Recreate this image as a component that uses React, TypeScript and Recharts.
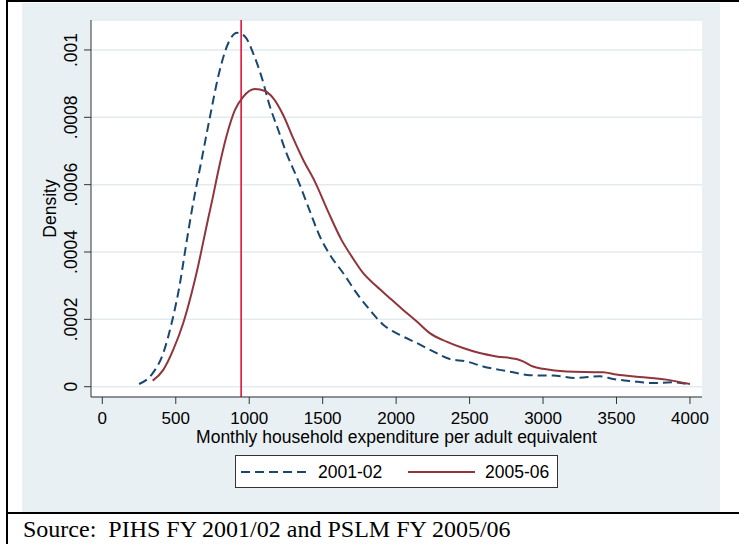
import React from "react";
import { ComposedChart, Line, XAxis, YAxis, CartesianGrid, ReferenceLine } from "recharts";

// 2001-02 kernel density (dashed navy)
const expenditure01 = [250, 336, 415, 472, 529, 563, 608, 676, 733, 789, 857, 918, 971, 1027, 1084, 1141, 1197, 1254, 1322, 1401, 1481, 1549, 1640, 1731, 1821, 1912, 2025, 2139, 2252, 2365, 2479, 2592, 2705, 2796, 2909, 3068, 3227, 3386, 3476, 3612, 3748, 3884, 4000];
const density01 = [0.000008, 0.000036, 0.0001, 0.000189, 0.000308, 0.000401, 0.00052, 0.000674, 0.000802, 0.000921, 0.00102, 0.001051, 0.00104, 0.00099, 0.00092, 0.000832, 0.000763, 0.000693, 0.000624, 0.000535, 0.000446, 0.000392, 0.000337, 0.000278, 0.000228, 0.000184, 0.000154, 0.00013, 0.000105, 0.000082, 0.000075, 0.00006, 0.00005, 0.000043, 0.000034, 0.000033, 0.000026, 0.000031, 0.000023, 0.000016, 0.000011, 0.000013, 0.000006];

// 2005-06 kernel density (solid maroon)
const expenditure05 = [343, 415, 483, 551, 608, 653, 687, 721, 751, 789, 846, 903, 959, 1039, 1107, 1163, 1231, 1299, 1367, 1447, 1537, 1628, 1697, 1776, 1867, 1957, 2048, 2139, 2229, 2343, 2456, 2569, 2683, 2819, 2864, 2932, 3000, 3159, 3408, 3499, 3658, 3840, 4000];
const density05 = [0.000018, 0.00005, 0.00011, 0.000189, 0.000278, 0.00036, 0.00043, 0.0005, 0.00056, 0.00064, 0.000745, 0.000822, 0.000861, 0.000884, 0.000878, 0.000857, 0.000807, 0.000738, 0.000674, 0.000609, 0.00052, 0.000436, 0.000387, 0.000337, 0.000298, 0.000263, 0.000228, 0.000194, 0.000159, 0.000134, 0.000115, 0.0001, 0.00009, 0.000082, 0.000075, 0.00006, 0.000053, 0.000045, 0.000043, 0.000036, 0.000029, 0.000021, 0.000008];

const povertyLine = 945;

const xTicks = [0, 500, 1000, 1500, 2000, 2500, 3000, 3500, 4000];
const yTicks = [0, 0.0002, 0.0004, 0.0006, 0.0008, 0.001];
const yTickLabels = ["0", ".0002", ".0004", ".0006", ".0008", ".001"];

const seriesNames = ["2001-02", "2005-06"];
const xTitle = "Monthly household expenditure per adult equivalent";
const yTitle = "Density";
const sourceText = "Source:  PIHS FY 2001/02 and PSLM FY 2005/06";

const data01 = expenditure01.map((x, i) => ({ x, y: density01[i] }));
const data05 = expenditure05.map((x, i) => ({ x, y: density05[i] }));

const SANS = "'Liberation Sans', Arial, Helvetica, sans-serif";
const SERIF = "'Liberation Serif', 'Times New Roman', serif";
const FS = 17;
const FS_TITLE = 17.5;
const BLUE = "#1a476f";
const MAROON = "#90353b";
const PANEL = "#e9f0f3";

const YTick = (props: any) => {
  const { x, y, payload } = props;
  let idx = 0;
  let best = Infinity;
  yTicks.forEach((t, i) => {
    const d = Math.abs(t - payload.value);
    if (d < best) { best = d; idx = i; }
  });
  return (
    <text x={x} y={y} transform={`rotate(-90 ${x} ${y})`} textAnchor="middle" fontSize={FS_TITLE} fontFamily={SANS} fill="#000">
      {yTickLabels[idx]}
    </text>
  );
};

export default function App() {
  return (
    <div style={{ position: "absolute", left: 0, top: 0, width: 739, height: 544, background: "#fff", overflow: "hidden" }}>
      <div style={{ position: "absolute", left: 22, top: 3, width: 698, height: 509, background: PANEL }} />
      <div style={{ position: "absolute", left: 6, top: 0, width: 2, height: 544, background: "#000" }} />
      <div style={{ position: "absolute", left: 6, top: 0, width: 733, height: 2, background: "#000" }} />
      <div style={{ position: "absolute", left: 6, top: 512, width: 733, height: 2, background: "#000" }} />
      <div style={{ position: "absolute", left: 0, top: 0 }}>
        <ComposedChart width={739} height={544} margin={{ top: 20, right: 37, bottom: 102, left: 31 }}>
          <CartesianGrid horizontal vertical={false} stroke="#e3ebee" strokeWidth={1.5} fill="#fff" />
          <XAxis
            type="number"
            dataKey="x"
            domain={[-77, 4082]}
            allowDataOverflow
            ticks={xTicks}
            height={45}
            tickSize={7}
            tickMargin={8}
            stroke="#333"
            tick={{ fontSize: FS, fontFamily: SANS, fill: "#000" }}
          />
          <YAxis
            type="number"
            dataKey="y"
            domain={[-0.0000306, 0.001089]}
            allowDataOverflow
            ticks={yTicks}
            width={60}
            tickSize={7}
            tickMargin={7}
            stroke="#333"
            tick={<YTick />}
          />
          <ReferenceLine x={povertyLine} stroke="#e0143c" strokeWidth={1.6} />
          <Line data={data01} dataKey="y" type="monotone" stroke={BLUE} strokeWidth={2} strokeDasharray="9 5" dot={false} isAnimationActive={false} name={seriesNames[0]} />
          <Line data={data05} dataKey="y" type="monotone" stroke={MAROON} strokeWidth={2} dot={false} isAnimationActive={false} name={seriesNames[1]} />
        </ComposedChart>
      </div>
      <svg width={739} height={544} style={{ position: "absolute", left: 0, top: 0, pointerEvents: "none" }}>
        <text x={56} y={208.5} transform="rotate(-90 56 208.5)" textAnchor="middle" fontSize={FS_TITLE} fontFamily={SANS} fill="#000">{yTitle}</text>
        <text x={396.5} y={443} textAnchor="middle" fontSize={FS_TITLE} fontFamily={SANS} fill="#000">{xTitle}</text>
        <text x={23} y={537} fontSize={24} fontFamily={SERIF} fill="#000" style={{ whiteSpace: "pre" }} xmlSpace="preserve">{sourceText}</text>
        <rect x={235.5} y={455.5} width={322} height={32} fill="#fff" stroke="#333" strokeWidth={1} />
        <line x1={241} x2={308} y1={472} y2={472} stroke={BLUE} strokeWidth={2} strokeDasharray="9 5" />
        <text x={318} y={478} fontSize={FS_TITLE} fontFamily={SANS} fill="#000">{seriesNames[0]}</text>
        <line x1={408} x2={475} y1={472} y2={472} stroke={MAROON} strokeWidth={2} />
        <text x={485} y={478} fontSize={FS_TITLE} fontFamily={SANS} fill="#000">{seriesNames[1]}</text>
      </svg>
    </div>
  );
}
